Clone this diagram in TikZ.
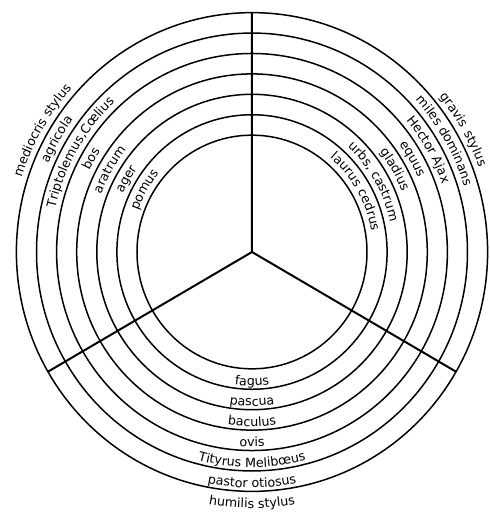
\documentclass[tikz,border=0pt]{standalone}
\usepackage{fontspec}
\setmainfont{DejaVu Sans}
\newfontfamily\widefamily[LetterSpace=12]{DejaVu Sans}
\usetikzlibrary{decorations.text}
\newcommand\labfont{\fontsize{12.7}{14}\selectfont}
\newcommand\widelabfont{\widefamily\fontsize{12.7}{14}\selectfont}
\tikzset{
  ring/.style={line width=1.5pt},
  spoke/.style={line width=2pt},
  arclabel/.style={decorate, decoration={text along path, text align=center, text={|\labfont|#1}}},
  widelabel/.style={decorate, decoration={text along path, text align=center, text={|\widelabfont|#1}}}
}
\begin{document}
\begin{tikzpicture}[x=1pt,y=1.016pt]
\useasboundingbox (-252pt,-260pt) rectangle (238pt,252pt);
\coordinate (O) at (0,0);
\foreach \r in {115,135.1,155.2,175.3,195.4,215.5,235.6}
  \draw[ring] (O) circle[radius=\r];
\coordinate (T) at (90:235.6);
\coordinate (L) at (210:235.6);
\coordinate (R) at (330:235.6);
\draw[spoke] (O) -- (T) (O) -- (L) (O) -- (R);
% right sector
\path[arclabel={laurus cedrus}] (90:121) arc[start angle=90,end angle=-30,radius=121];
\path[arclabel={urbs, castrum}] (90:141.1) arc[start angle=90,end angle=-30,radius=141.1];
\path[arclabel={gladius}] (90:161.2) arc[start angle=90,end angle=-30,radius=161.2];
\path[arclabel={equus}] (90:181.3) arc[start angle=90,end angle=-30,radius=181.3];
\path[arclabel={Hector Ajax}] (90:201.4) arc[start angle=90,end angle=-30,radius=201.4];
\path[arclabel={miles dominans}] (90:221.5) arc[start angle=90,end angle=-30,radius=221.5];
\path[widelabel={gravis stylus}] (90:241.6) arc[start angle=90,end angle=-30,radius=241.6];
% left sector
\path[arclabel={pomus}] (210:121) arc[start angle=210,end angle=90,radius=121];
\path[arclabel={ager}] (210:141.1) arc[start angle=210,end angle=90,radius=141.1];
\path[arclabel={aratrum}] (210:161.2) arc[start angle=210,end angle=90,radius=161.2];
\path[arclabel={bos}] (210:181.3) arc[start angle=210,end angle=90,radius=181.3];
\path[arclabel={Triptolemus,Cœlius}] (210:201.4) arc[start angle=210,end angle=90,radius=201.4];
\path[arclabel={agricola}] (210:221.5) arc[start angle=210,end angle=90,radius=221.5];
\path[arclabel={mediocris stylus}] (210:241.6) arc[start angle=210,end angle=90,radius=241.6];
% bottom sector
\path[arclabel={fagus}] (200:131.5) arc[start angle=200,end angle=340,radius=131.5];
\path[arclabel={pascua}] (200:151.6) arc[start angle=200,end angle=340,radius=151.6];
\path[arclabel={baculus}] (200:171.7) arc[start angle=200,end angle=340,radius=171.7];
\path[arclabel={ovis}] (200:191.8) arc[start angle=200,end angle=340,radius=191.8];
\path[arclabel={Tityrus Melibœus}] (200:211.9) arc[start angle=200,end angle=340,radius=211.9];
\path[arclabel={pastor otiosus}] (200:232) arc[start angle=200,end angle=340,radius=232];
\path[arclabel={humilis stylus}] (200:252) arc[start angle=200,end angle=340,radius=252];
\end{tikzpicture}
\end{document}
